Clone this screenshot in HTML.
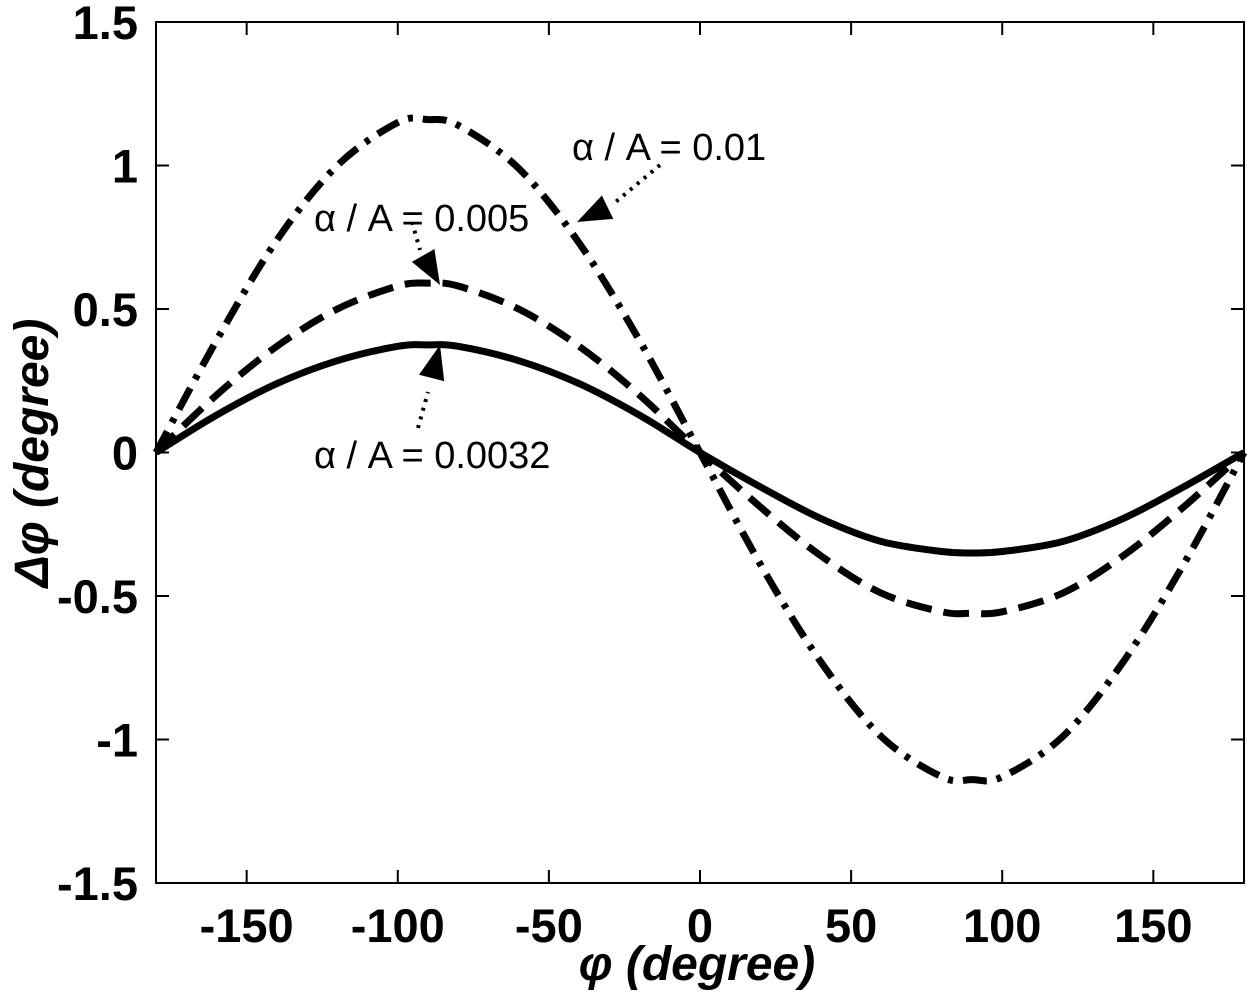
<!DOCTYPE html>
<html><head><meta charset="utf-8"><style>
body{margin:0;background:#fff}
svg text{font-family:"Liberation Sans",Arial,sans-serif;font-weight:bold;fill:#000}
svg text.ann{font-weight:normal}
</style></head><body>
<svg id="chart" width="1247" height="1000" viewBox="0 0 1247 1000" xmlns="http://www.w3.org/2000/svg">
<g id="plot"></g>
</svg>
<script>
const phi = [-180,-160,-140,-120,-100,-90,-80,-60,-40,-20,0,20,40,60,80,90,100,120,140,160,180];
const seriesSmall = [0,0.13,0.24,0.32,0.37,0.375,0.37,0.32,0.24,0.13,0,-0.12,-0.23,-0.31,-0.345,-0.35,-0.345,-0.31,-0.23,-0.12,0];
const seriesMid = [0,0.2,0.37,0.5,0.58,0.59,0.58,0.5,0.37,0.2,0,-0.19,-0.36,-0.49,-0.555,-0.56,-0.555,-0.49,-0.36,-0.19,0];
const seriesLarge = [0,0.39,0.74,1.0,1.15,1.16,1.14,0.99,0.73,0.39,0,-0.39,-0.73,-0.99,-1.13,-1.14,-1.13,-0.99,-0.73,-0.39,0];
const xTicks = [-150,-100,-50,0,50,100,150];
const yTicks = [-1.5,-1,-0.5,0,0.5,1,1.5];
const yTickLabels = ["-1.5","-1","-0.5","0","0.5","1","1.5"];

const X0=156,X1=1244,Y0=883,Y1=22;
const xs=v=>X0+(v+180)/360*(X1-X0);
const ys=v=>Y0-(v+1.5)/3*(Y0-Y1);
const NS="http://www.w3.org/2000/svg";
const g=document.getElementById('plot');
function mk(t,a,p){const e=document.createElementNS(NS,t);for(const k in a)e.setAttribute(k,a[k]);(p||g).appendChild(e);return e;}

const frame=mk('rect',{x:X0,y:Y1,width:X1-X0,height:Y0-Y1,fill:'none',stroke:'#000','stroke-width':2});



xTicks.forEach(v=>{
  const x=xs(v);
  const t1=mk('line',{x1:x,x2:x,y1:Y0,y2:Y0-13,stroke:'#000','stroke-width':2});
  
  
  const t2=mk('line',{x1:x,x2:x,y1:Y1,y2:Y1+13,stroke:'#000','stroke-width':2});
  
  
  const l=mk('text',{x:x,y:942,'text-anchor':'middle','font-size':47});
  l.textContent=String(v);
  
  
});
yTicks.forEach((v,i)=>{
  const y=ys(v);
  const t1=mk('line',{x1:X0,x2:X0+13,y1:y,y2:y,stroke:'#000','stroke-width':2});
  
  
  const t2=mk('line',{x1:X1,x2:X1-13,y1:y,y2:y,stroke:'#000','stroke-width':2});
  
  
  const l=mk('text',{x:138,y:y+17,'text-anchor':'end','font-size':47});
  l.textContent=yTickLabels[i];
  
  
});

function path(vals){
  const pts=phi.map((p,i)=>[xs(p),ys(vals[i])]);
  let d='M'+pts[0][0]+','+pts[0][1];
  for(let i=0;i<pts.length-1;i++){
    const p0=pts[Math.max(0,i-1)],p1=pts[i],p2=pts[i+1],p3=pts[Math.min(pts.length-1,i+2)];
    d+=' C'+(p1[0]+(p2[0]-p0[0])/6)+','+(p1[1]+(p2[1]-p0[1])/6)+' '+(p2[0]-(p3[0]-p1[0])/6)+','+(p2[1]-(p3[1]-p1[1])/6)+' '+p2[0]+','+p2[1];
  }
  return d;
}
const s1=mk('path',{d:path(seriesSmall),fill:'none',stroke:'#000','stroke-width':7});


const s2=mk('path',{d:path(seriesMid),fill:'none',stroke:'#000','stroke-width':7,'stroke-dasharray':'26 12'});


const s3=mk('path',{d:path(seriesLarge),fill:'none',stroke:'#000','stroke-width':7,'stroke-dasharray':'24 10 5 10'});



function annot(txt,tx,ty,lx1,ly1,lx2,ly2,tipx,tipy,name){
  const t=mk('text',{x:tx,y:ty,'font-size':38,'class':'ann'});
  t.textContent=txt;
  
  
  const l=mk('line',{x1:lx1,y1:ly1,x2:lx2,y2:ly2,stroke:'#000','stroke-width':4,'stroke-dasharray':'3 6'});
  
  
  const ang=Math.atan2(tipy-ly2,tipx-lx2),L=34,W=13;
  const bx=tipx-L*Math.cos(ang),by=tipy-L*Math.sin(ang);
  const px=-Math.sin(ang)*W,py=Math.cos(ang)*W;
  const h=mk('polygon',{points:tipx+','+tipy+' '+(bx+px)+','+(by+py)+' '+(bx-px)+','+(by-py),fill:'#000'});
  
  
}
annot('α / A = 0.01',572,160,660,165,612,205,577,222,'annotation-0.01');
annot('α / A = 0.005',314,231,412,222,420,250,440,285,'annotation-0.005');
annot('α / A = 0.0032',314,468,418,428,428,392,440,345,'annotation-0.0032');

const xl=mk('text',{x:697,y:980,'text-anchor':'middle','font-size':48,'font-style':'italic'});
xl.textContent='φ (degree)';


const yl=mk('text',{x:0,y:0,'text-anchor':'middle','font-size':48,'font-style':'italic',transform:'translate(48,453) rotate(-90)'});
yl.textContent='Δφ (degree)';


</script>
</body></html>
